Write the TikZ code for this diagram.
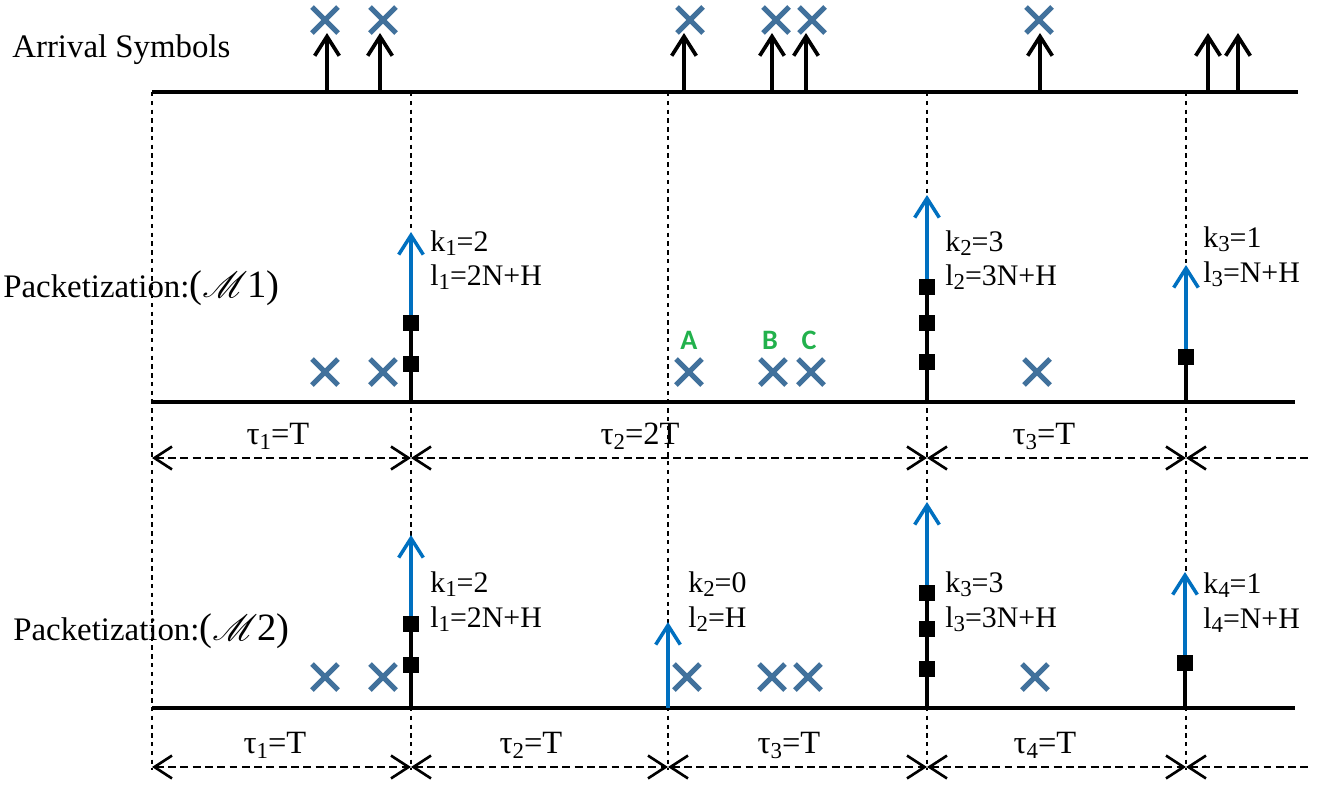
\documentclass[tikz,border=0pt]{standalone}
\usepackage{fontspec}
\setmainfont{Liberation Serif}
\newfontfamily\abcfont{Carlito}
\usepackage{mathrsfs}
\usetikzlibrary{arrows.meta}
\definecolor{crossblue}{RGB}{65,113,156}
\definecolor{pktblue}{RGB}{0,112,192}
\definecolor{abcgreen}{RGB}{34,177,76}
\newcommand\lowsub[1]{\raisebox{-0.35ex}{\fontsize{13}{13}\selectfont #1}}
\newcommand\scheme[1]{{\fontsize{22}{24}\selectfont(\(\mathscr{M}\)#1)}}
\tikzset{
  axisline/.style={line width=2.4pt},
  guide/.style={line width=0.8pt, dash pattern=on 2.5pt off 2.5pt},
  spanboth/.style={line width=1.3pt, dash pattern=on 4.5pt off 2.5pt,
     {Straight Barb[length=10pt,width=13pt,line width=1.5pt]}-{Straight Barb[length=10pt,width=13pt,line width=1.5pt]}},
  spanleft/.style={line width=1.3pt, dash pattern=on 4.5pt off 2.5pt,
     {Straight Barb[length=10pt,width=13pt,line width=1.5pt]}-},
  arrival/.style={line width=2.1pt, -{Straight Barb[length=11pt,width=14pt]}},
  pkt/.style={pktblue, line width=2pt, -{Straight Barb[length=11pt,width=14pt]}},
  stem/.style={line width=2.2pt},
  sq/.style={fill=black, minimum size=9pt, inner sep=0pt},
  title/.style={anchor=base west, inner sep=0pt, font=\fontsize{18.7}{20}\selectfont},
  klabel/.style={anchor=base west, inner sep=0pt, font=\fontsize{17}{20}\selectfont},
  taulabel/.style={anchor=base, inner sep=0pt, font=\fontsize{18.5}{20}\selectfont},
  abc/.style={abcgreen, inner sep=0pt, font=\abcfont\bfseries\fontsize{16}{18}\selectfont},
  xm/.pic={\draw[crossblue, line width=3pt] (-13,-13)--(13,13) (-13,13)--(13,-13);}
}
\begin{document}
\begin{tikzpicture}[x=0.02cm,y=-0.02cm]
\useasboundingbox (0,0) rectangle (1330,795);

% vertical guide lines
\foreach \x [count=\i] in {152,411,668,927,1186}{
  \coordinate (gt\i) at (\x,92);
  \coordinate (gb\i) at (\x,770);
  \draw[guide] (gt\i) -- (gb\i);
}

% ---------- Arrival symbols ----------
\node[title] (tarr) at (12,57) {Arrival Symbols};
\coordinate (a0) at (152,92); \coordinate (a1) at (1298,92);
\draw[axisline] (a0) -- (a1);
\foreach \x [count=\i] in {327,380,684,772,806,1040,1208,1238}{
  \coordinate (ab\i) at (\x,92); \coordinate (at\i) at (\x,33);
  \draw[arrival] (ab\i) -- (at\i);
}
\foreach \x in {325,383,690,776,812,1039}{ \pic at (\x,20) {xm}; }

% ---------- Packetization M1 ----------
\node[title] (tm1) at (3,297) {Packetization:\scheme{1}};
\coordinate (m0) at (152,402); \coordinate (m1) at (1295,402);
\draw[axisline] (m0) -- (m1);
\foreach \x in {325,383,689,773,811,1037}{ \pic at (\x,372) {xm}; }
\node[abc] (lA) at (689,340) {A};
\node[abc] (lB) at (770,340) {B};
\node[abc] (lC) at (809,340) {C};

% packet 1
\coordinate (p1b) at (411,402); \coordinate (p1t) at (411,232);
\node[sq] (p1s1) at (411,364) {}; \node[sq] (p1s2) at (411,323) {};
\draw[stem] (p1b) -- (p1s2.center);
\draw[pkt] (p1s2.center) -- (p1t);
\node[sq] at (411,364) {}; \node[sq] at (411,323) {};
\node[klabel] (k11) at (430,251) {k\lowsub{1}=2};
\node[klabel] (l11) at (430,285) {l\lowsub{1}=2N+H};

% packet 2
\coordinate (p2b) at (927,402); \coordinate (p2t) at (927,195);
\node[sq] (p2s1) at (927,362) {}; \node[sq] (p2s2) at (927,323) {}; \node[sq] (p2s3) at (927,287) {};
\draw[stem] (p2b) -- (p2s3.center);
\draw[pkt] (p2s3.center) -- (p2t);
\node[sq] at (927,362) {}; \node[sq] at (927,323) {}; \node[sq] at (927,287) {};
\node[klabel] (k12) at (945,251) {k\lowsub{2}=3};
\node[klabel] (l12) at (945,285) {l\lowsub{2}=3N+H};

% packet 3
\coordinate (p3b) at (1186,402); \coordinate (p3t) at (1186,265);
\node[sq] (p3s1) at (1186,357) {};
\draw[stem] (p3b) -- (p3s1.center);
\draw[pkt] (p3s1.center) -- (p3t);
\node[sq] at (1186,357) {};
\node[klabel] (k13) at (1203,247) {k\lowsub{3}=1};
\node[klabel] (l13) at (1203,282) {l\lowsub{3}=N+H};

% tau row 1
\coordinate (r1a) at (152,458); \coordinate (r1b) at (411,458);
\coordinate (r1c) at (927,458); \coordinate (r1d) at (1186,458);
\coordinate (r1e) at (1308,458);
\draw[spanboth] (r1a) -- (r1b);
\draw[spanboth] (r1b) -- (r1c);
\draw[spanboth] (r1c) -- (r1d);
\draw[spanleft] (r1d) -- (r1e);
\node[taulabel] (t11) at (278,444) {τ\lowsub{1}=T};
\node[taulabel] (t12) at (640,444) {τ\lowsub{2}=2T};
\node[taulabel] (t13) at (1044,444) {τ\lowsub{3}=T};

% ---------- Packetization M2 ----------
\node[title] (tm2) at (13,640) {Packetization:\scheme{2}};
\coordinate (n0) at (152,708); \coordinate (n1) at (1295,708);
\draw[axisline] (n0) -- (n1);
\foreach \x in {325,383,687,772,808,1035}{ \pic at (\x,677) {xm}; }

% packet 1
\coordinate (q1b) at (411,708); \coordinate (q1t) at (411,535);
\node[sq] (q1s1) at (411,665) {}; \node[sq] (q1s2) at (411,624) {};
\draw[stem] (q1b) -- (q1s2.center);
\draw[pkt] (q1s2.center) -- (q1t);
\node[sq] at (411,665) {}; \node[sq] at (411,624) {};
\node[klabel] (k21) at (430,592) {k\lowsub{1}=2};
\node[klabel] (l21) at (430,627) {l\lowsub{1}=2N+H};

% packet 2 (empty)
\coordinate (q2b) at (668,708); \coordinate (q2t) at (668,622);
\draw[pkt] (q2b) -- (q2t);
\node[klabel] (k22) at (688,592) {k\lowsub{2}=0};
\node[klabel] (l22) at (688,627) {l\lowsub{2}=H};

% packet 3
\coordinate (q3b) at (927,708); \coordinate (q3t) at (927,502);
\node[sq] (q3s1) at (927,669) {}; \node[sq] (q3s2) at (927,629) {}; \node[sq] (q3s3) at (927,593) {};
\draw[stem] (q3b) -- (q3s3.center);
\draw[pkt] (q3s3.center) -- (q3t);
\node[sq] at (927,669) {}; \node[sq] at (927,629) {}; \node[sq] at (927,593) {};
\node[klabel] (k23) at (945,592) {k\lowsub{3}=3};
\node[klabel] (l23) at (945,627) {l\lowsub{3}=3N+H};

% packet 4
\coordinate (q4b) at (1185,708); \coordinate (q4t) at (1185,572);
\node[sq] (q4s1) at (1185,663) {};
\draw[stem] (q4b) -- (q4s1.center);
\draw[pkt] (q4s1.center) -- (q4t);
\node[sq] at (1185,663) {};
\node[klabel] (k24) at (1203,593) {k\lowsub{4}=1};
\node[klabel] (l24) at (1203,628) {l\lowsub{4}=N+H};

% tau row 2
\coordinate (r2a) at (152,767); \coordinate (r2b) at (411,767);
\coordinate (r2c) at (668,767); \coordinate (r2d) at (927,767);
\coordinate (r2e) at (1186,767); \coordinate (r2f) at (1308,767);
\draw[spanboth] (r2a) -- (r2b);
\draw[spanboth] (r2b) -- (r2c);
\draw[spanboth] (r2c) -- (r2d);
\draw[spanboth] (r2d) -- (r2e);
\draw[spanleft] (r2e) -- (r2f);
\node[taulabel] (t21) at (275,753) {τ\lowsub{1}=T};
\node[taulabel] (t22) at (531,753) {τ\lowsub{2}=T};
\node[taulabel] (t23) at (789,753) {τ\lowsub{3}=T};
\node[taulabel] (t24) at (1045,753) {τ\lowsub{4}=T};
\end{tikzpicture}
\end{document}
